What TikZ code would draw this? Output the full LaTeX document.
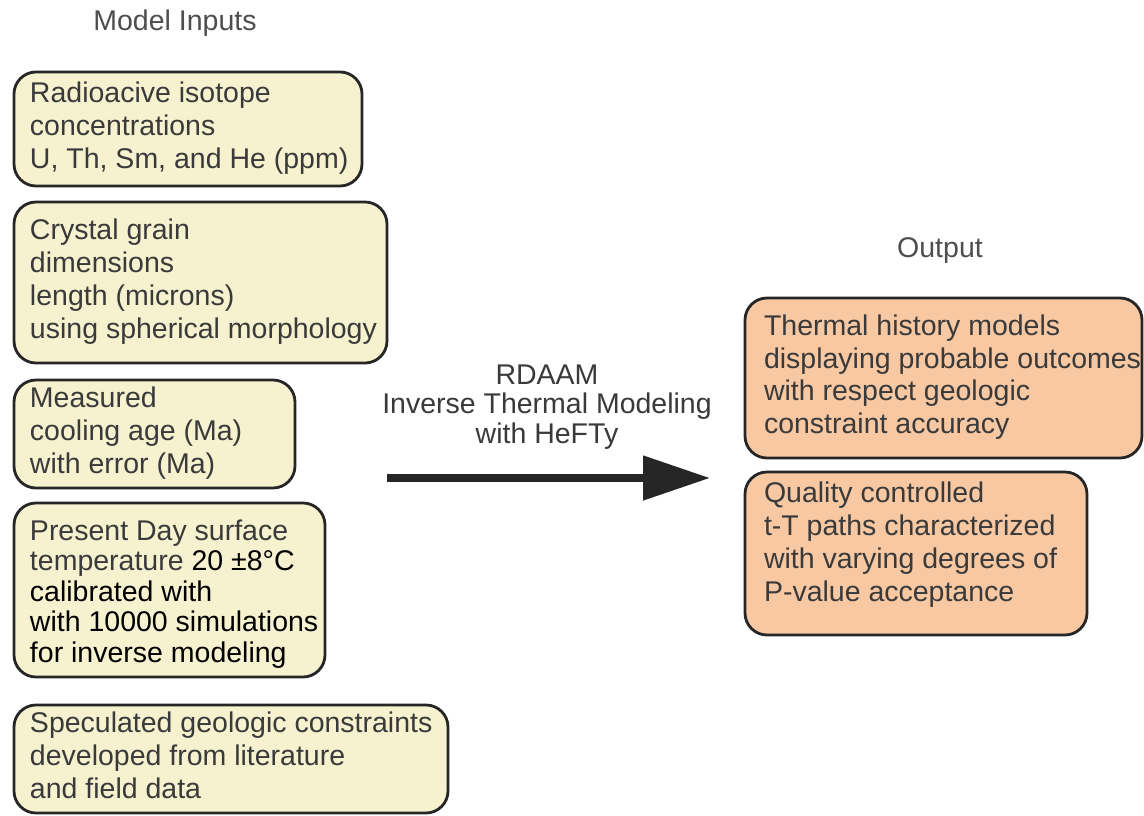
\documentclass[tikz,border=0pt]{standalone}
\usepackage{fontspec}
\setmainfont{Liberation Sans}
\usetikzlibrary{arrows.meta}
\definecolor{infill}{RGB}{246,241,207}
\definecolor{outfill}{RGB}{247,200,162}
\definecolor{bordc}{RGB}{38,38,38}
\definecolor{txtc}{RGB}{58,58,58}
\newcommand{\boxfont}{\fontsize{28.5}{33}\selectfont}
\newcommand{\lines}[3]{\raisebox{#2}[\height][\depth]{\makebox[#1][l]{\begin{tabular}{@{}l@{}}#3\end{tabular}}}}
\begin{document}
\begin{tikzpicture}[x=1pt,y=-1pt,
  basebox/.style={draw=bordc, line width=2.8pt, rounded corners=22pt, anchor=north west,
    inner xsep=16pt, inner ysep=0pt, outer sep=0pt, font=\boxfont, text=txtc},
  inbox/.style={basebox, fill=infill},
  outbox/.style={basebox, fill=outfill, inner xsep=19pt},
  titletext/.style={font=\boxfont, text=txtc!90},
  bigarrow/.style={line width=8pt, draw=bordc, -{Triangle[length=67pt,width=43pt]}}]
\useasboundingbox (0,0) rectangle (1144,815);
\fill[white] (0,0) rectangle (1144,815);

\node[titletext] (tin) at (175,23) {Model Inputs};
\node[titletext] (tout) at (940,251) {Output};

\node[inbox, minimum height=114pt] (b1) at (14,72)
  {\lines{316pt}{0pt}{Radioacive isotope\\concentrations\\U, Th, Sm, and He (ppm)}};
\node[inbox, minimum height=161pt] (b2) at (14,202)
  {\lines{341pt}{0pt}{Crystal grain\\dimensions\\length (microns)\\using spherical morphology}};
\node[inbox, minimum height=108pt] (b3) at (14,380)
  {\lines{249pt}{0pt}{Measured\\cooling age (Ma)\\with error (Ma)}};
\node[inbox, minimum height=174pt] (b4) at (14,503)
  {\fontsize{28.5}{30.5}\selectfont\lines{279pt}{-5pt}{Present Day surface\\temperature \textcolor{black}{20 ±8°C}\\\textcolor{black}{calibrated with}\\\textcolor{black}{with 10000 simulations}\\\textcolor{black}{for inverse modeling}}};
\node[inbox, minimum height=108pt] (b5) at (14,705)
  {\lines{402pt}{0pt}{Speculated geologic constraints\\developed from literature\\and field data}};

\node[outbox, minimum height=160pt] (o1) at (745,298)
  {\fontsize{28.5}{32.5}\selectfont\lines{359pt}{0pt}{Thermal history models\\displaying probable outcomes\\with respect geologic\\constraint accuracy}};
\node[outbox, minimum height=163pt] (o2) at (745,472)
  {\lines{304pt}{8pt}{Quality controlled\\t-T paths characterized\\with varying degrees of\\P-value acceptance}};

\node[font=\fontsize{28.5}{29.5}\selectfont, text=txtc, align=center] (lbl) at (547,407)
  {RDAAM\\Inverse Thermal Modeling\\with HeFTy};
\coordinate (as) at (387,478);
\coordinate (ae) at (710,478);
\draw[bigarrow] (as) -- (ae);
\end{tikzpicture}
\end{document}
